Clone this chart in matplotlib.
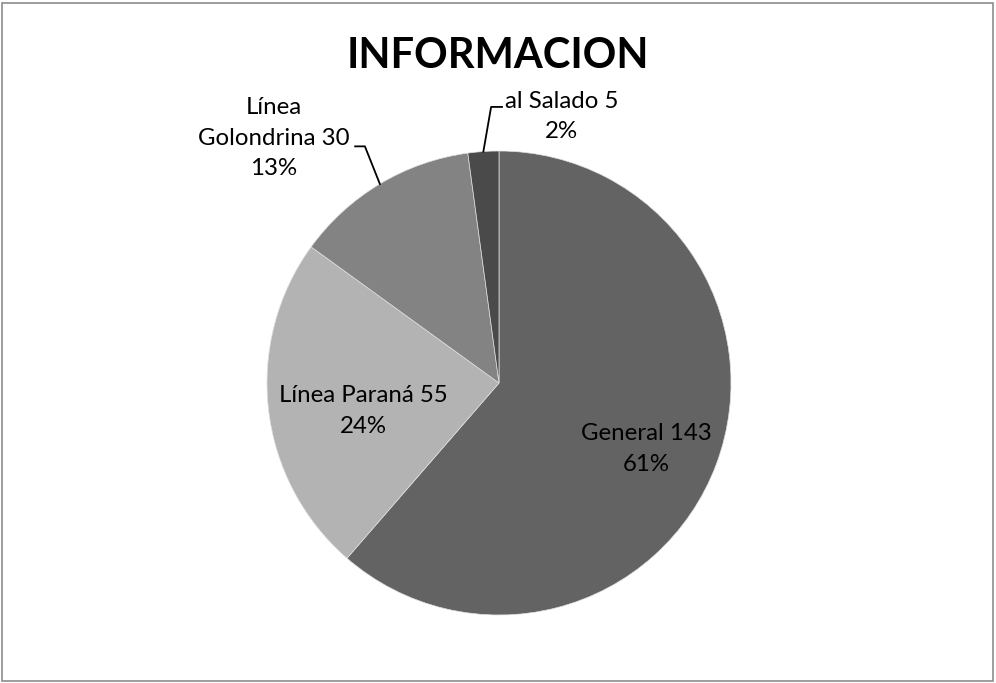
import numpy as np
import matplotlib
matplotlib.use("Agg")
import matplotlib.pyplot as plt
from matplotlib.patches import Rectangle

plt.rcParams["font.family"] = ["Lato", "DejaVu Sans"]

names = ["General", "Línea Paraná", "Línea\nGolondrina", "al Salado"]
values = [143, 55, 30, 5]
colors = ["#636363", "#b3b3b3", "#838383", "#4a4a4a"]

fig = plt.figure(figsize=(9.96, 6.83), dpi=100)
fig.patches.append(Rectangle((0.002, 0.003), 0.995, 0.992, transform=fig.transFigure,
                             fill=False, edgecolor="#8c8c8c", lw=1.2))

# pie axes: centre (499,383) px, radius 232 px
cx, cy, r = 499, 383, 232
ax = fig.add_axes([(cx - r) / 996, (683 - cy - r) / 683, 2 * r / 996, 2 * r / 683])
wedges, _ = ax.pie(values, colors=colors, startangle=90, counterclock=False, radius=1,
                   wedgeprops=dict(edgecolor="#e0e0e0", linewidth=0.5))
ax.set_xlim(-1, 1); ax.set_ylim(-1, 1); ax.set_aspect("equal")
ax.axis("off")

total = sum(values)
pcts = [round(100 * v / total) for v in values]
fs = 17.3
ls = 1.55
# label anchor in pie-radius units (Excel best-fit placement)
lab_pos = [(0.634, -0.285), (-0.586, -0.12), (-0.97, 1.055), (0.27, 1.15)]
for i, w in enumerate(wedges):
    mid = np.deg2rad(0.5 * (w.theta1 + w.theta2))
    ux, uy = np.cos(mid), np.sin(mid)
    txt = f"{names[i]} {values[i]}\n{pcts[i]}%"
    ax.text(*lab_pos[i], txt, ha="center", va="center", fontsize=fs, linespacing=ls,
            clip_on=False)
    if i == 2:
        ax.plot([-0.62, -0.578, ux], [1.02, 1.02, uy], color="black", lw=1.3, clip_on=False)
    elif i == 3:
        ax.plot([ux, -0.034, 0.013], [uy, 1.19, 1.19], color="black", lw=1.3, clip_on=False)

fig.text(0.5, 0.918, "INFORMACION", ha="center", va="center", fontsize=30, fontweight="bold")

fig.savefig("out.png", dpi=100)
